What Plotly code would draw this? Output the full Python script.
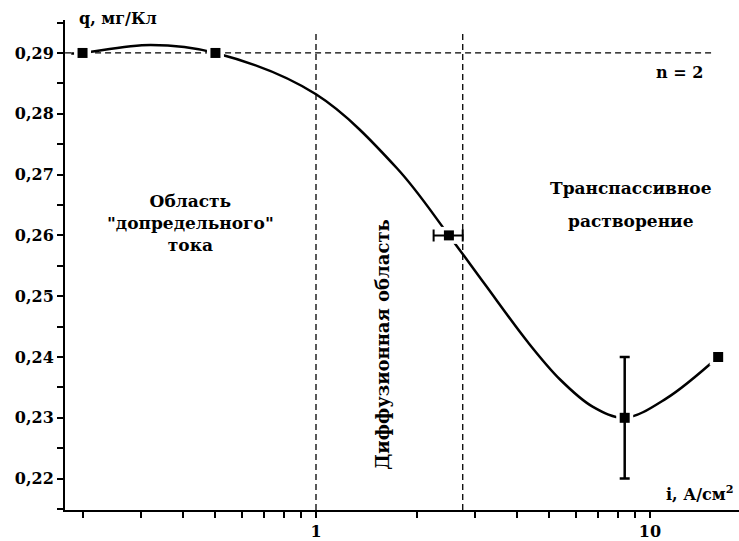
import plotly.graph_objects as go

# Measured specific charge q (mg/C) versus current density i (A/cm^2)
current = [0.2, 0.5, 2.5, 8.4, 16.0]
charge = [0.290, 0.290, 0.260, 0.230, 0.240]
current_err = [0.0, 0.0, 0.25, 0.0, 0.0]
charge_err = [0.0, 0.0, 0.0, 0.010, 0.0]

# Smoothed trend curve through the measurements
fit_i = [0.185, 0.2, 0.32, 0.5, 1.0, 1.75, 2.5, 3.2, 4.3, 5.38, 6.75, 8.4,
         11.2, 16.0]
fit_q = [0.2899, 0.2900, 0.2913, 0.2900, 0.2832, 0.2710, 0.2600, 0.2520,
         0.2425, 0.2363, 0.2318, 0.2300, 0.2332, 0.2400]

# Region boundaries and the n = 2 reference level
boundaries_i = [1.0, 2.75]
ref_q = 0.29
ref_i_span = [0.1773, 15.44]
boundary_q_span = [0.21484, 0.29379]

y_ticks = [0.22, 0.23, 0.24, 0.25, 0.26, 0.27, 0.28, 0.29]
y_ticktext = ["0,22", "0,23", "0,24", "0,25", "0,26", "0,27", "0,28", "0,29"]
y_minor = [0.215, 0.225, 0.235, 0.245, 0.255, 0.265, 0.275, 0.285, 0.295]
x_ticks = [1, 10]
x_ticktext = ["1", "10"]
x_minor = [0.2, 0.3, 0.4, 0.5, 0.6, 0.7, 0.8, 0.9,
           2, 3, 4, 5, 6, 7, 8, 9, 20]

FONT = "DejaVu Serif"
dash = "6px,4px"

fig = go.Figure()

# dashed guides
fig.add_trace(go.Scatter(x=ref_i_span, y=[ref_q, ref_q], mode="lines",
                         line=dict(color="black", width=1.3, dash=dash),
                         hoverinfo="skip", showlegend=False))
for b in boundaries_i:
    fig.add_trace(go.Scatter(x=[b, b], y=boundary_q_span, mode="lines",
                             line=dict(color="black", width=1.3, dash=dash),
                             hoverinfo="skip", showlegend=False))

# trend curve
fig.add_trace(go.Scatter(x=fit_i, y=fit_q, mode="lines",
                         line=dict(color="black", width=2.5, shape="spline",
                                   smoothing=1.0),
                         hoverinfo="skip", showlegend=False))

# white halo so the curve breaks around each marker
fig.add_trace(go.Scatter(x=current, y=charge, mode="markers",
                         marker=dict(symbol="square", size=17, color="white"),
                         hoverinfo="skip", showlegend=False))

# measured points with error bars
for xi, yi, ex, ey in zip(current, charge, current_err, charge_err):
    tr = dict(x=[xi], y=[yi], mode="markers",
              marker=dict(symbol="square", size=10, color="black"),
              showlegend=False)
    if ex > 0:
        tr["error_x"] = dict(type="data", array=[ex], color="black",
                             thickness=2, width=6)
    if ey > 0:
        tr["error_y"] = dict(type="data", array=[ey], color="black",
                             thickness=2.5, width=5)
    fig.add_trace(go.Scatter(**tr))

txt_font = dict(family=FONT, size=17, color="black", weight="bold")

annotations = [
    dict(text="q, мг/Кл", x=0.0178, y=1.004, xanchor="left", yanchor="middle",
         font=dict(family=FONT, size=16, color="black", weight="bold")),
    dict(text="Область<br>\"допредельного\"<br>тока", x=0.1855, y=0.5859,
         xanchor="center", yanchor="middle"),
    dict(text="Диффузионная область", x=0.4718, y=0.3374, textangle=-90,
         xanchor="center", yanchor="middle",
         font=dict(family=FONT, size=18, color="black", weight="bold")),
    dict(text="Транспассивное", x=0.8398, y=0.6566, xanchor="center",
         yanchor="middle"),
    dict(text="растворение", x=0.8398, y=0.5899, xanchor="center",
         yanchor="middle"),
    dict(text="n = 2", x=0.911, y=0.8929, xanchor="center", yanchor="middle",
         font=dict(family=FONT, size=16, color="black", weight="bold")),
    dict(text="i, А/см<sup>2</sup>", x=0.9955, y=0.0343, xanchor="right",
         yanchor="middle",
         font=dict(family=FONT, size=16, color="black", weight="bold")),
]
for a in annotations:
    a.setdefault("font", txt_font)
    a.update(xref="paper", yref="paper", showarrow=False)

fig.update_layout(
    width=739, height=541,
    margin=dict(l=65, r=0, t=20, b=26),
    paper_bgcolor="white", plot_bgcolor="white",
    annotations=annotations,
    showlegend=False,
)

fig.update_xaxes(
    type="log", range=[-0.7515, 1.2665],
    showgrid=False, zeroline=False,
    showline=True, linecolor="black", linewidth=2,
    tickmode="array", tickvals=x_ticks, ticktext=x_ticktext,
    ticks="outside", ticklen=6, tickwidth=1.5, tickcolor="black",
    tickfont=dict(family=FONT, size=16, color="black", weight="bold"),
    minor=dict(tickmode="array", tickvals=x_minor, ticks="outside",
               ticklen=6, tickwidth=1.5, tickcolor="black", showgrid=False),
)
fig.update_yaxes(
    range=[0.21484, 0.29542],
    showgrid=False, zeroline=False,
    showline=True, linecolor="black", linewidth=2,
    tickmode="array", tickvals=y_ticks, ticktext=y_ticktext,
    ticks="outside", ticklen=6, tickwidth=1.5, tickcolor="black",
    tickfont=dict(family=FONT, size=16, color="black", weight="bold"),
    minor=dict(tickmode="array", tickvals=y_minor, ticks="outside",
               ticklen=6, tickwidth=1.5, tickcolor="black", showgrid=False),
)

fig.write_html("out.html")
